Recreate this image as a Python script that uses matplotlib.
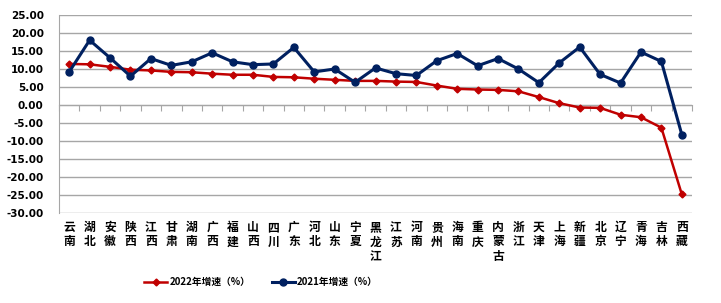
import matplotlib.pyplot as plt
import numpy as np

plt.rcParams['font.family'] = ['Noto Sans CJK SC', 'DejaVu Sans']

provinces = ['云南', '湖北', '安徽', '陕西', '江西', '甘肃', '湖南', '广西', '福建', '山西',
             '四川', '广东', '河北', '山东', '宁夏', '黑龙江', '江苏', '河南', '贵州', '海南',
             '重庆', '内蒙古', '浙江', '天津', '上海', '新疆', '北京', '辽宁', '青海', '吉林', '西藏']
growth_2022 = [11.4, 11.3, 10.6, 9.8, 9.6, 9.2, 9.1, 8.7, 8.4, 8.4,
               7.8, 7.7, 7.3, 7.0, 6.7, 6.7, 6.5, 6.4, 5.4, 4.5,
               4.3, 4.2, 3.8, 2.2, 0.5, -0.7, -0.8, -2.7, -3.4, -6.3, -24.8]
growth_2021 = [9.2, 18.0, 13.1, 8.0, 12.9, 11.0, 12.0, 14.5, 12.0, 11.2,
               11.4, 16.0, 9.2, 10.0, 6.3, 10.3, 8.7, 8.2, 12.3, 14.3,
               10.9, 12.9, 10.0, 6.2, 11.7, 16.1, 8.5, 6.1, 14.7, 12.1, -8.2]
yticks = np.arange(-30, 26, 5)

fig = plt.figure(figsize=(7.21, 3.03), dpi=100)
ax = fig.add_axes([59 / 721, 1 - 213 / 303, (692 - 59) / 721, 198 / 303])

x = np.arange(len(provinces))
ax.plot(x, growth_2022, color='#C00000', lw=1.8, marker='D', ms=3.5, label='2022年增速（%）', zorder=3)
ax.plot(x, growth_2021, color='#002060', lw=2.2, marker='o', ms=5, label='2021年增速（%）', zorder=4)

ax.set_xlim(-0.5, len(provinces) - 0.5)
ax.set_ylim(-30, 25)
ax.set_yticks(yticks)
ax.set_yticklabels([f'{v:.2f}' for v in yticks], family='DejaVu Sans', fontweight='bold', fontsize=7.5)
ax.tick_params(axis='y', length=0, pad=11)
ax.yaxis.grid(True, color='#A6A6A6', lw=1)
ax.set_axisbelow(True)

# category axis sits at zero with boundary ticks
ax.spines['bottom'].set_position(('data', 0))
ax.spines['bottom'].set_color('#A6A6A6')
ax.spines['left'].set_color('#A6A6A6')
ax.spines['top'].set_visible(False)
ax.spines['right'].set_visible(False)
ax.set_xticks(np.arange(-0.5, len(provinces), 1))
ax.set_xticklabels([])
ax.tick_params(axis='x', length=4, color='#A6A6A6', direction='out')

for i, name in enumerate(provinces):
    ax.text(i, -0.04, '\n'.join(name), transform=ax.get_xaxis_transform(),
            ha='center', va='top', fontsize=8.5, fontweight='bold', linespacing=1.15)

fig.legend(loc='center', bbox_to_anchor=(0.362, 0.069), ncol=2, frameon=False,
           prop={'size': 7, 'weight': 'bold'}, handlelength=2.4, columnspacing=2.2, handletextpad=0.2)

fig.savefig('out.png', dpi=100)
